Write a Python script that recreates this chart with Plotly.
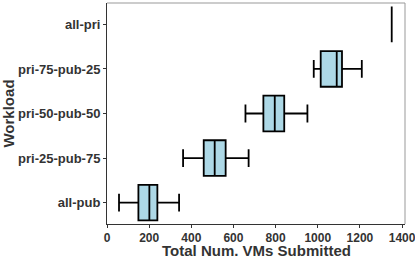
import plotly.graph_objects as go

categories = ["all-pub", "pri-25-pub-75", "pri-50-pub-50", "pri-75-pub-25", "all-pri"]
lower = [57, 361, 657, 981, 1351]
q1 = [149, 459, 742, 1014, 1351]
median = [201, 511, 796, 1090, 1351]
q3 = [239, 563, 841, 1115, 1351]
upper = [342, 672, 951, 1209, 1351]
x_ticks = [0, 200, 400, 600, 800, 1000, 1200, 1400]

fig = go.Figure()
fig.add_trace(go.Box(
    y=categories, q1=q1, median=median, q3=q3,
    lowerfence=lower, upperfence=upper,
    orientation="h", fillcolor="#add8e6",
    line=dict(color="black", width=1.8),
    width=0.8, whiskerwidth=0.5, boxpoints=False,
    hoverinfo="skip",
))

font = "Liberation Sans, Arial, sans-serif"
fig.update_layout(
    width=415, height=259,
    margin=dict(l=107, r=10, t=3, b=35),
    plot_bgcolor="white", paper_bgcolor="white",
    showlegend=False,
    font=dict(family=font, color="#333333"),
    xaxis=dict(
        range=[0, 1414], tickvals=x_ticks, ticktext=[str(v) for v in x_ticks],
        automargin=False, ticklabeloverflow="allow",
        showgrid=False, zeroline=False, showline=True, linecolor="#333333", linewidth=1,
        ticks="outside", ticklen=3, tickcolor="#333333",
        tickfont=dict(family=font, size=12, color="#333333", weight="bold"),
    ),
    yaxis=dict(
        type="category", categoryorder="array", categoryarray=categories,
        range=[-0.48, 4.48], automargin=False,
        showgrid=False, zeroline=False, showline=True, linecolor="#333333", linewidth=1,
        ticks="outside", ticklen=3, tickcolor="#333333",
        tickfont=dict(family=font, size=13, color="#333333", weight="bold"),
        title=dict(text="<b>Workload</b>", font=dict(size=15, color="#333333"), standoff=2),
    ),
    annotations=[
        dict(text="<b>Total Num. VMs Submitted</b>", xref="paper", yref="paper",
             x=0.5, y=-0.12, xanchor="center", yanchor="middle", showarrow=False,
             font=dict(family=font, size=15, color="#333333")),
    ],
    shapes=[
        dict(type="line", xref="paper", yref="paper", x0=0, x1=1, y0=1, y1=1,
             line=dict(color="#999999", width=1)),
        dict(type="line", xref="paper", yref="paper", x0=1, x1=1, y0=0, y1=1,
             line=dict(color="#999999", width=1)),
    ],
)

fig.write_html("out.html", config={"displayModeBar": False},
               post_script="document.body.style.margin='0';document.body.style.overflow='hidden';")
